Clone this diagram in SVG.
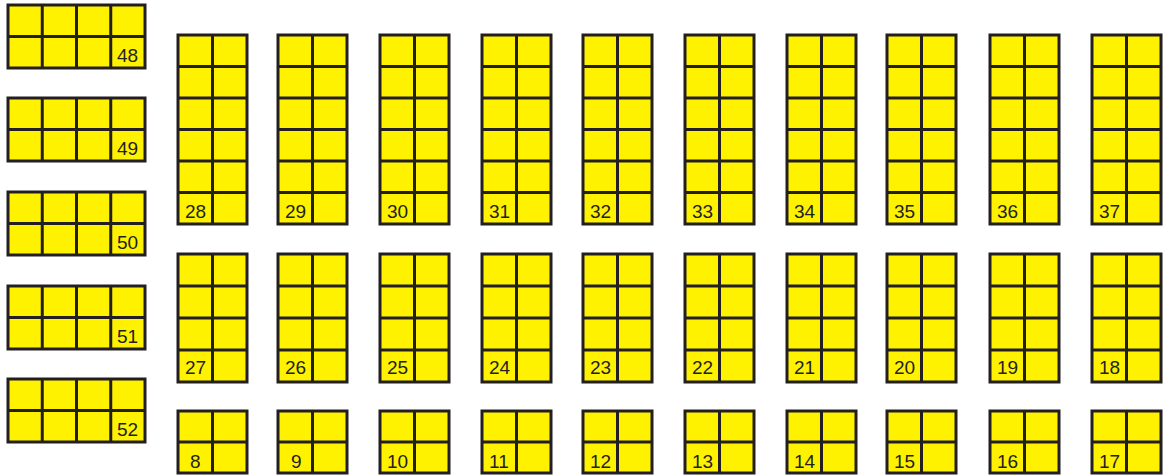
<svg xmlns="http://www.w3.org/2000/svg" xmlns:xlink="http://www.w3.org/1999/xlink" width="1173" height="476" viewBox="0 0 1173 476">
<style>
.b{fill:#fff200;stroke:#231f20;stroke-width:3}
.l{fill:none;stroke:#231f20;stroke-width:3}
text{font-family:"Liberation Sans",Arial,sans-serif;font-size:19px;fill:#231f20}
</style>
<defs>
<g id="colTop"><rect class="b" x="0" y="35" width="69" height="189"/><path class="l" d="M34.5 35V224M0 66.5H69M0 98H69M0 129.5H69M0 161H69M0 192.5H69"/></g>
<g id="colMid"><rect class="b" x="0" y="254" width="69" height="128"/><path class="l" d="M34.5 254V382M0 286H69M0 318H69M0 350H69"/></g>
<g id="colBot"><rect class="b" x="0" y="411" width="69" height="62"/><path class="l" d="M34.5 411V473M0 442H69"/></g>
<g id="leftBlk"><rect class="b" x="8" y="0" width="137" height="63"/><path class="l" d="M42.25 0V63M76.5 0V63M110.75 0V63M8 31.5H145"/></g>
</defs>
<g id="left">
<g id="n48" transform="translate(0,5)"><use xlink:href="#leftBlk"/><text x="117" y="57">48</text></g>
<g id="n49" transform="translate(0,98)"><use xlink:href="#leftBlk"/><text x="117" y="57">49</text></g>
<g id="n50" transform="translate(0,192)"><use xlink:href="#leftBlk"/><text x="117" y="57">50</text></g>
<g id="n51" transform="translate(0,286)"><use xlink:href="#leftBlk"/><text x="117" y="57">51</text></g>
<g id="n52" transform="translate(0,379)"><use xlink:href="#leftBlk"/><text x="117" y="57">52</text></g>
</g>
<g id="top">
<g id="n28" transform="translate(178,0)"><use xlink:href="#colTop"/><text x="7" y="218">28</text></g>
<g id="n29" transform="translate(278,0)"><use xlink:href="#colTop"/><text x="7" y="218">29</text></g>
<g id="n30" transform="translate(380,0)"><use xlink:href="#colTop"/><text x="7" y="218">30</text></g>
<g id="n31" transform="translate(482,0)"><use xlink:href="#colTop"/><text x="7" y="218">31</text></g>
<g id="n32" transform="translate(583,0)"><use xlink:href="#colTop"/><text x="7" y="218">32</text></g>
<g id="n33" transform="translate(685,0)"><use xlink:href="#colTop"/><text x="7" y="218">33</text></g>
<g id="n34" transform="translate(787,0)"><use xlink:href="#colTop"/><text x="7" y="218">34</text></g>
<g id="n35" transform="translate(887,0)"><use xlink:href="#colTop"/><text x="7" y="218">35</text></g>
<g id="n36" transform="translate(990,0)"><use xlink:href="#colTop"/><text x="7" y="218">36</text></g>
<g id="n37" transform="translate(1092,0)"><use xlink:href="#colTop"/><text x="7" y="218">37</text></g>
</g>
<g id="middle">
<g id="n27" transform="translate(178,0)"><use xlink:href="#colMid"/><text x="7" y="374">27</text></g>
<g id="n26" transform="translate(278,0)"><use xlink:href="#colMid"/><text x="7" y="374">26</text></g>
<g id="n25" transform="translate(380,0)"><use xlink:href="#colMid"/><text x="7" y="374">25</text></g>
<g id="n24" transform="translate(482,0)"><use xlink:href="#colMid"/><text x="7" y="374">24</text></g>
<g id="n23" transform="translate(583,0)"><use xlink:href="#colMid"/><text x="7" y="374">23</text></g>
<g id="n22" transform="translate(685,0)"><use xlink:href="#colMid"/><text x="7" y="374">22</text></g>
<g id="n21" transform="translate(787,0)"><use xlink:href="#colMid"/><text x="7" y="374">21</text></g>
<g id="n20" transform="translate(887,0)"><use xlink:href="#colMid"/><text x="7" y="374">20</text></g>
<g id="n19" transform="translate(990,0)"><use xlink:href="#colMid"/><text x="7" y="374">19</text></g>
<g id="n18" transform="translate(1092,0)"><use xlink:href="#colMid"/><text x="7" y="374">18</text></g>
</g>
<g id="bottom">
<g id="n8" transform="translate(178,0)"><use xlink:href="#colBot"/><text x="12" y="468">8</text></g>
<g id="n9" transform="translate(278,0)"><use xlink:href="#colBot"/><text x="13" y="468">9</text></g>
<g id="n10" transform="translate(380,0)"><use xlink:href="#colBot"/><text x="7" y="468">10</text></g>
<g id="n11" transform="translate(482,0)"><use xlink:href="#colBot"/><text x="7" y="468">11</text></g>
<g id="n12" transform="translate(583,0)"><use xlink:href="#colBot"/><text x="7" y="468">12</text></g>
<g id="n13" transform="translate(685,0)"><use xlink:href="#colBot"/><text x="7" y="468">13</text></g>
<g id="n14" transform="translate(787,0)"><use xlink:href="#colBot"/><text x="7" y="468">14</text></g>
<g id="n15" transform="translate(887,0)"><use xlink:href="#colBot"/><text x="7" y="468">15</text></g>
<g id="n16" transform="translate(990,0)"><use xlink:href="#colBot"/><text x="7" y="468">16</text></g>
<g id="n17" transform="translate(1092,0)"><use xlink:href="#colBot"/><text x="7" y="468">17</text></g>
</g>
<g id="connectors"/>
</svg>
